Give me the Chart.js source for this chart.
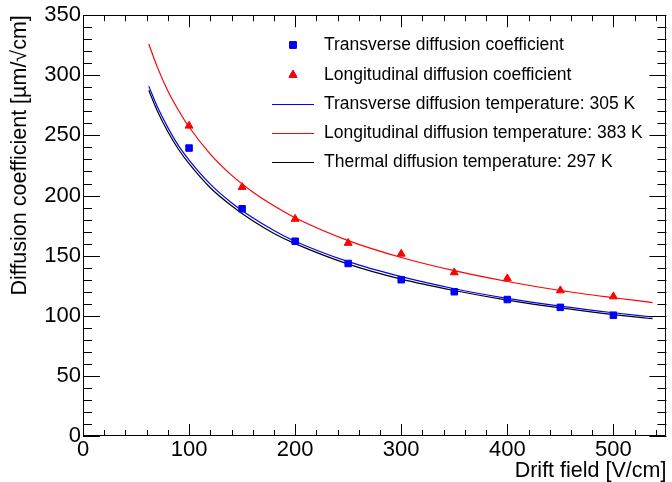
<!DOCTYPE html>
<html><head><meta charset="utf-8">
<script src="https://cdn.jsdelivr.net/npm/chart.js@4/dist/chart.umd.min.js"></script>
<style>html,body{margin:0;padding:0;background:#fff;overflow:hidden}#wrap{width:672px;height:482px}</style>
</head><body><div id="wrap"><canvas id="c" width="672" height="482"></canvas></div>
<script>
// ---- data ----
const fieldPoints = [100, 150, 200, 250, 300, 350, 400, 450, 500];
const transverseCoef = [239.5, 189, 162, 143.5, 130, 120, 113.5, 107, 100.5];
const longitudinalCoef = [258, 207, 180.5, 160.5, 151.5, 136, 131, 121, 116];

const curveField = [62, 70, 80, 90, 100, 120, 140, 160, 180, 200, 250, 300, 350, 400, 450, 500, 537];
const transverseCurve = [291, 274, 256.5, 241.5, 229.5, 209.5, 194, 181.5, 171, 162, 145, 132.5, 122.5, 114.5, 108, 102.5, 99];
const longitudinalCurve = [326, 307, 287, 271, 257, 234.5, 217, 203, 191.5, 181.5, 162.5, 148.5, 137.5, 128.5, 121, 115, 111];
const thermalCurve = [287.5, 270.5, 253, 238.5, 226.5, 206.5, 191.5, 179, 168.5, 160, 143, 130.5, 121, 113, 106.5, 101, 97.5];

const xMajorTicks = [0, 100, 200, 300, 400, 500];
const yMajorTicks = [0, 50, 100, 150, 200, 250, 300, 350];
const seriesLabels = [
  'Transverse diffusion coefficient',
  'Longitudinal diffusion coefficient',
  'Transverse diffusion temperature: 305 K',
  'Longitudinal diffusion temperature: 383 K',
  'Thermal diffusion temperature: 297 K'
];
const xTitle = 'Drift field [V/cm]';
const yTitle = 'Diffusion coefficient [\u00B5m/\u221Acm]';

const FONT = "'Liberation Sans', Arial, Helvetica, sans-serif";
const pts = (xs, ys) => xs.map((x, i) => ({x, y: ys[i]}));

// ROOT-style frame with inner ticks on all four sides
const frameTicks = {
  id: 'frameTicks',
  afterDatasetsDraw(chart) {
    const {ctx, chartArea: a, scales: {x, y}} = chart;
    ctx.save();
    ctx.strokeStyle = '#000';
    ctx.lineWidth = 1;
    ctx.beginPath();
    ctx.rect(Math.round(a.left) + 0.5, Math.round(a.top) + 0.5, Math.round(a.right - a.left) - 1, Math.round(a.bottom - a.top) - 1);
    ctx.stroke();
    ctx.beginPath();
    for (let v = 0; v <= x.max + 1e-6; v += 20) {
      const px = Math.round(x.getPixelForValue(v)) + 0.5;
      const len = (v % 100 === 0) ? 12 : 6;
      ctx.moveTo(px, a.bottom); ctx.lineTo(px, a.bottom - len);
      ctx.moveTo(px, a.top); ctx.lineTo(px, a.top + len);
    }
    for (let v = 0; v <= y.max + 1e-6; v += 10) {
      const py = Math.round(y.getPixelForValue(v)) + 0.5;
      const len = (v % 50 === 0) ? 17 : 9;
      ctx.moveTo(a.left, py); ctx.lineTo(a.left + len, py);
      ctx.moveTo(a.right, py); ctx.lineTo(a.right - len, py);
    }
    ctx.stroke();
    ctx.restore();
  }
};

// legend drawn inside the frame (no box), like the ROOT TLegend
const insideLegend = {
  id: 'insideLegend',
  afterDraw(chart) {
    const {ctx} = chart;
    const rows = [45, 75, 104, 133, 162];
    const symX = 293, lineX0 = 272, lineX1 = 314, textX = 324;
    ctx.save();
    chart.data.datasets.forEach((ds, i) => {
      const yy = rows[i];
      if (ds.showLine === false) {
        Chart.helpers.drawPoint(ctx, {
          pointStyle: ds.pointStyle, radius: ds.pointRadius, borderWidth: ds.borderWidth, rotation: 0
        }, symX, yy);
        ctx.fillStyle = ds.backgroundColor; ctx.strokeStyle = ds.borderColor; ctx.lineWidth = ds.borderWidth;
        ctx.fill(); ctx.stroke();
      } else {
        ctx.strokeStyle = ds.borderColor; ctx.lineWidth = ds.borderWidth;
        ctx.beginPath(); ctx.moveTo(lineX0, yy + 0.5); ctx.lineTo(lineX1, yy + 0.5); ctx.stroke();
      }
      ctx.fillStyle = '#000';
      ctx.font = '17.5px ' + FONT;
      ctx.textAlign = 'left'; ctx.textBaseline = 'middle';
      ctx.fillText(ds.label, textX, yy);
    });
    ctx.restore();
  }
};

new Chart(document.getElementById('c'), {
  type: 'scatter',
  data: {
    datasets: [
      {label: seriesLabels[0], data: pts(fieldPoints, transverseCoef), showLine: false,
       pointStyle: 'rect', pointRadius: 4.6, borderWidth: 1, backgroundColor: '#0000ff', borderColor: '#0000ff'},
      {label: seriesLabels[1], data: pts(fieldPoints, longitudinalCoef), showLine: false,
       pointStyle: 'triangle', pointRadius: 4.6, borderWidth: 1, backgroundColor: '#ff0000', borderColor: '#ff0000'},
      {label: seriesLabels[2], data: pts(curveField, transverseCurve), showLine: true, pointRadius: 0,
       borderColor: '#0000ff', backgroundColor: '#0000ff', borderWidth: 1.2, cubicInterpolationMode: 'monotone'},
      {label: seriesLabels[3], data: pts(curveField, longitudinalCurve), showLine: true, pointRadius: 0,
       borderColor: '#ff0000', backgroundColor: '#ff0000', borderWidth: 1.2, cubicInterpolationMode: 'monotone'},
      {label: seriesLabels[4], data: pts(curveField, thermalCurve), showLine: true, pointRadius: 0,
       borderColor: '#000000', backgroundColor: '#000000', borderWidth: 1.2, cubicInterpolationMode: 'monotone'}
    ]
  },
  options: {
    responsive: false, animation: false, devicePixelRatio: 1,
    layout: {padding: {top: 15, right: 2, left: 0, bottom: 0}},
    plugins: {legend: {display: false}, tooltip: {enabled: false}},
    elements: {point: {hoverRadius: 0}},
    scales: {
      x: {
        type: 'linear', min: 0, max: 550,
        afterBuildTicks: s => { s.ticks = xMajorTicks.map(v => ({value: v})); },
        afterFit: s => { s.height = 46; },
        grid: {display: false, drawTicks: false},
        border: {display: false},
        ticks: {color: '#000', font: {family: FONT, size: 22}, padding: 1, autoSkip: false, maxRotation: 0},
        title: {display: true, text: xTitle, align: 'end', color: '#000',
                font: {family: FONT, size: 21.5, lineHeight: 1}, padding: {top: 0, bottom: 0}}
      },
      y: {
        type: 'linear', min: 0, max: 350,
        afterBuildTicks: s => { s.ticks = yMajorTicks.map(v => ({value: v})); },
        afterFit: s => { s.width = 83; },
        grid: {display: false, drawTicks: false},
        border: {display: false},
        ticks: {color: '#000', font: {family: FONT, size: 22}, padding: 2, autoSkip: false},
        title: {display: true, text: yTitle, align: 'end', color: '#000',
                font: {family: FONT, size: 21.5, lineHeight: 1}, padding: {top: 9, bottom: 0}}
      }
    }
  },
  plugins: [frameTicks, insideLegend]
});
</script></body></html>
